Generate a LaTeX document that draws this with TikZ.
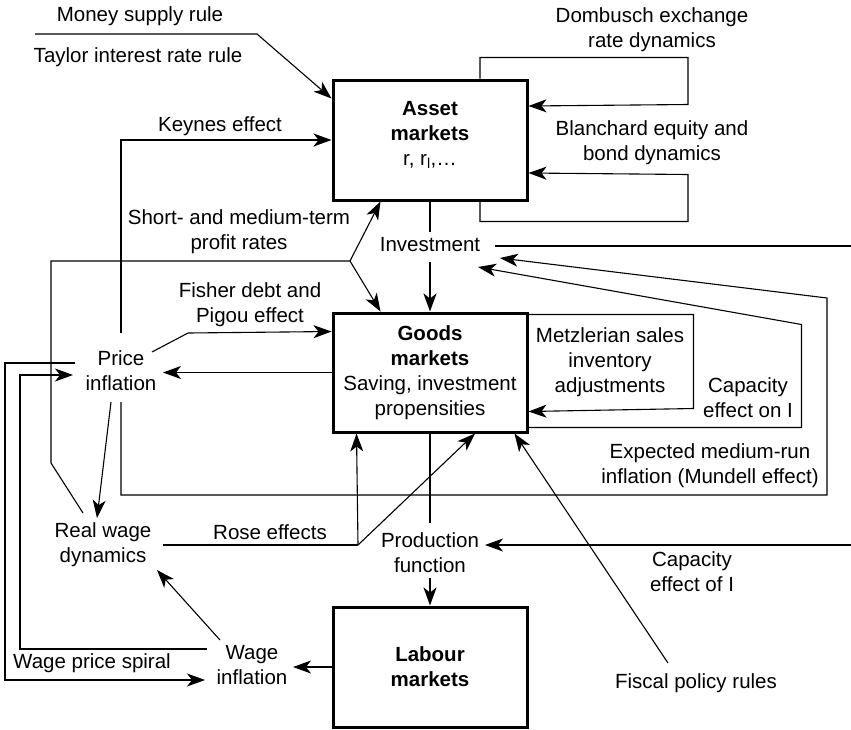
\documentclass[tikz,border=0pt]{standalone}
\usepackage{fontspec}
\setmainfont{Liberation Sans}
\usetikzlibrary{arrows.meta,calc}

\begin{document}
\begin{tikzpicture}[x=1pt,y=-1pt,
  font=\fontsize{20.5}{25}\selectfont,
  every node/.style={inner sep=0pt},
  lbl/.style={align=center},
  market/.style={draw,line width=3pt,minimum width=194pt,minimum height=120pt,align=center},
  tip/.style={-{Stealth[length=18pt,width=13pt,inset=5pt]}},
  plain/.style={line width=1.1pt},
  link/.style={plain,tip},
  mainflow/.style={line width=2.4pt},
  mainarrow/.style={mainflow,tip},
]
\useasboundingbox (0,0) rectangle (851,729);

% the three markets
\node[market,text depth=13pt] (asset) at (430,140) {\textbf{Asset}\\\textbf{markets}\\r, r\textsubscript{l},…};
\node[market,minimum height=119pt] (goods) at (430,372.5) {\textbf{Goods}\\\textbf{markets}\\Saving, investment\\propensities};
\node[market] (labour) at (430,667) {\textbf{Labour}\\\textbf{markets}};

% labels and intermediate variables
\node[lbl] (money) at (140,16) {Money supply rule};
\node[lbl] (taylor) at (138,57) {Taylor interest rate rule};
\node[lbl] (keynes) at (220,126) {Keynes effect};
\node[lbl] (dombusch) at (652,30) {Dombusch exchange\\rate dynamics};
\node[lbl] (blanchard) at (652,143) {Blanchard equity and\\bond dynamics};
\node[lbl] (profit) at (239,232) {Short- and medium-term\\profit rates};
\node[lbl] (invest) at (430,245) {Investment};
\node[lbl] (fisher) at (250,305) {Fisher debt and\\Pigou effect};
\node[lbl] (price) at (121,371) {Price\\inflation};
\node[lbl] (metz) at (610,362) {Metzlerian sales\\inventory\\adjustments};
\node[lbl] (capon) at (748,398) {Capacity\\effect on I};
\node[lbl] (mundell) at (710,466) {Expected medium-run\\inflation (Mundell effect)};
\node[lbl] (rose) at (270,532) {Rose effects};
\node[lbl] (realwage) at (103,545) {Real wage\\dynamics};
\node[lbl] (prod) at (430,553) {Production\\function};
\node[lbl] (capof) at (692,572) {Capacity\\effect of I};
\node[lbl] (wageinf) at (252,665) {Wage\\inflation};
\node[lbl] (spiral) at (92,663) {Wage price spiral};
\node[lbl] (fiscal) at (696,683) {Fiscal policy rules};

% monetary policy rules
\coordinate (msstart) at (35,34);
\coordinate (msbend) at (257,34);
\draw[link] (msstart) -- (msbend) -- ($(asset.north west)+(0,20)$);

% Keynes effect
\draw[link] ($(price)+(0,-38)$) |- (asset.west);

% exchange rate and equity/bond feedback loops
\draw[link] ($(asset.north)+(50,0)$) -- ++(0,-21) -- ++(208,0) -- ++(0,47) -- ($(asset.east)+(0,-34)$);
\draw[link] ($(asset.south)+(50,0)$) -- ++(0,20) -- ++(208,0) -- ++(0,-47) -- ($(asset.east)+(0,33)$);

% main chain: asset markets -> investment -> goods markets
\draw[mainflow] (asset.south) -- ($(invest)+(0,-13)$);
\draw[mainarrow] ($(invest)+(0,17)$) -- (goods.north);

% profit rates
\coordinate (pfork) at (350,261);
\draw[plain] ($(realwage)+(-20,-32)$) -- ++(-32,-50) |- (pfork);
\draw[link] (pfork) -- ($(asset.south west)+(49,0)$);
\draw[link] (pfork) -- ($(goods.north west)+(49,0)$);

% Fisher debt and Pigou effect
\draw[link] ($(price)+(31,-19)$) -- ++(36,-19) -- ($(goods.north west)+(0,20)$);

% goods markets -> price inflation
\draw[link] (goods.west) -- ($(price)+(42,1.5)$);

% Metzlerian inventory loop
\draw[link] ($(goods.north east)+(0,3)$) -- ++(165,0) -- ++(0,94) -- ($(goods.south east)+(0,-22)$);

% capacity effect on investment
\draw[link] ($(goods.south east)+(0,-6)$) -- ++(273,0) -- ++(0,-103) -- ($(invest)+(48,22)$);

% Mundell effect
\draw[link] ($(price)+(0,31)$) -- ++(0,93) -- ++(706,0) -- ++(0,-197) -- ($(invest)+(70,13)$);

% investment leaving to the right
\coordinate (invout) at (851,246);
\draw[plain] ($(invest)+(65,1)$) -- (invout);

% price inflation -> real wage
\draw[link] ($(price)+(-10,31)$) -- ($(realwage)+(-6,-27)$);

% Rose effects
\coordinate (rfork) at (358,545);
\draw[plain] ($(realwage)+(60,0)$) -- (rfork);
\draw[link] (rfork) -- ($(goods.south west)+(25,0)$);
\draw[link] (rfork) -- ($(goods.south)+(45,0)$);

% main chain: goods markets -> production function -> labour markets
\draw[mainflow] (goods.south) -- ($(prod)+(0,-30)$);
\draw[mainarrow] ($(prod)+(0,25)$) -- (labour.north);

% capacity effect of investment
\coordinate (capin) at (851,545);
\draw[link] (capin) -- ($(prod)+(55,-8)$);

% fiscal policy
\draw[link] ($(fiscal)+(-28,-20)$) -- ($(goods.south east)+(-14,0)$);

% labour markets -> wage inflation -> real wage
\draw[link] (labour.west) -- ($(wageinf)+(41,2)$);
\draw[link] ($(wageinf)+(-32,-25)$) -- ($(realwage)+(54,25)$);

% wage price spiral
\draw[link] ($(price)+(-46,-8)$) -- ++(-70,0) |- ($(wageinf)+(-47,15)$);
\draw[link] ($(wageinf)+(-45,-16)$) -- ++(-187,0) |- ($(price)+(-48,4)$);
\end{tikzpicture}
\end{document}
